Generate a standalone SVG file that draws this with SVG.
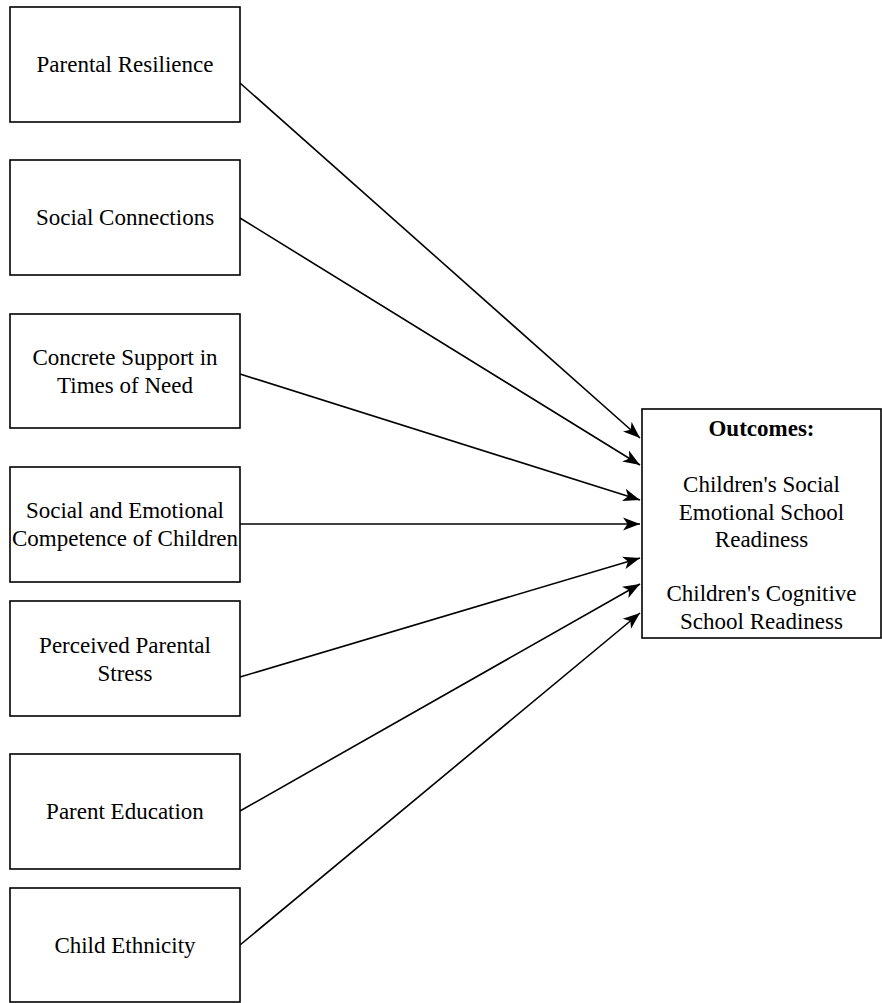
<svg xmlns="http://www.w3.org/2000/svg" width="882" height="1003" viewBox="0 0 882 1003">
<style>
.box{fill:#fff;stroke:#000;stroke-width:1.6}
.t{font-family:"Liberation Serif","Times New Roman",serif;font-size:23px;fill:#000;text-anchor:middle}
.b{font-weight:bold}
.c{fill:none;stroke:#000;stroke-width:1.6;marker-end:url(#ah)}
</style>
<defs>
<marker id="ah" markerUnits="userSpaceOnUse" markerWidth="18" markerHeight="14" refX="17" refY="7" orient="auto" viewBox="0 0 18 14">
<path d="M0,0.5 L17,7 L0,13.5 L4.5,7 z" fill="#000"/>
</marker>
</defs>
<rect width="882" height="1003" fill="#fff"/>
<g id="connectors">
<path class="c" d="M240,83 L640,438"/>
<path class="c" d="M240,218 L640,465"/>
<path class="c" d="M240,374 L640,500"/>
<path class="c" d="M240,524 L640,524"/>
<path class="c" d="M240,677 L640,558"/>
<path class="c" d="M240,811 L640,584"/>
<path class="c" d="M240,945 L640,613"/>
</g>
<g id="n1"><rect class="box" x="10" y="7" width="230" height="115"/><text class="t" x="125" y="72">Parental Resilience</text></g>
<g id="n2"><rect class="box" x="10" y="160" width="230" height="115"/><text class="t" x="125" y="225">Social Connections</text></g>
<g id="n3"><rect class="box" x="10" y="314" width="230" height="114"/><text class="t" x="125" y="364.5">Concrete Support in</text><text class="t" x="125" y="392.5">Times of Need</text></g>
<g id="n4"><rect class="box" x="10" y="467" width="230" height="115"/><text class="t" x="125" y="518">Social and Emotional</text><text class="t" x="125" y="546">Competence of Children</text></g>
<g id="n5"><rect class="box" x="10" y="601" width="230" height="115"/><text class="t" x="125" y="652.5">Perceived Parental</text><text class="t" x="125" y="680.5">Stress</text></g>
<g id="n6"><rect class="box" x="10" y="754" width="230" height="115"/><text class="t" x="125" y="819">Parent Education</text></g>
<g id="n7"><rect class="box" x="10" y="888" width="230" height="114"/><text class="t" x="125" y="953">Child Ethnicity</text></g>
<g id="outcomes"><rect class="box" x="642" y="409" width="239" height="229"/>
<text class="t b" x="761.5" y="436">Outcomes:</text>
<text class="t" x="761.5" y="492">Children's Social</text>
<text class="t" x="761.5" y="519.5">Emotional School</text>
<text class="t" x="761.5" y="547">Readiness</text>
<text class="t" x="761.5" y="601">Children's Cognitive</text>
<text class="t" x="761.5" y="629">School Readiness</text>
</g>
</svg>
